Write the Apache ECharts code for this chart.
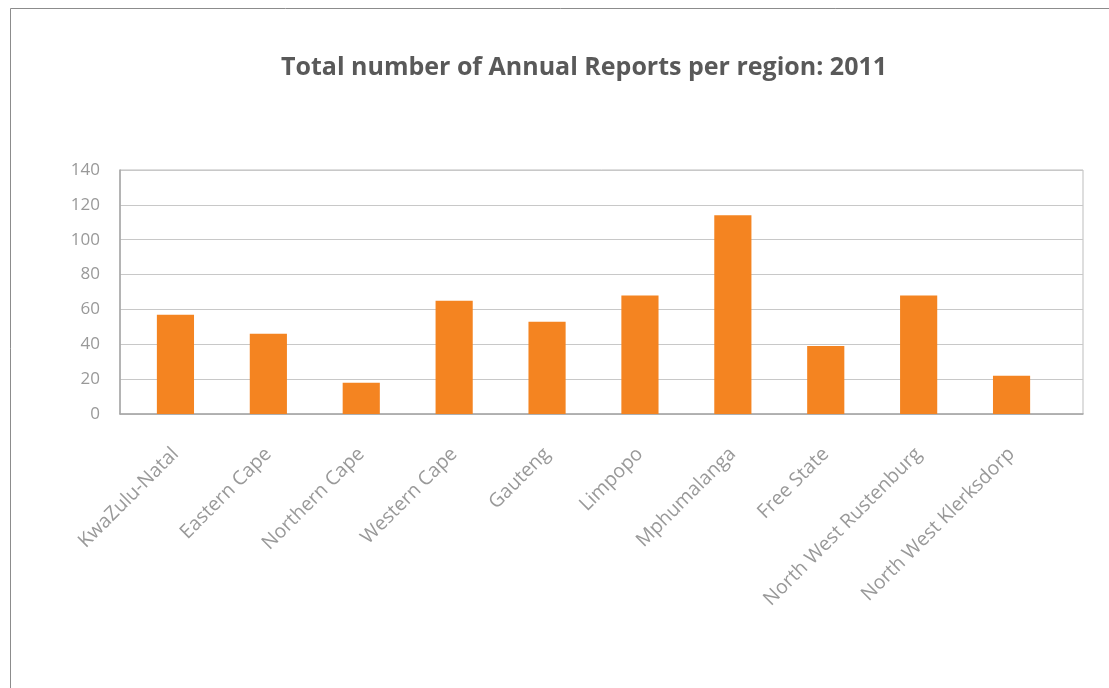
<!DOCTYPE html>
<html>
<head>
<meta charset="utf-8">
<script src="https://cdn.jsdelivr.net/npm/echarts@6/dist/echarts.min.js"></script>
<style>
  html, body { margin: 0; padding: 0; background: #ffffff; }
  #chart { width: 1109px; height: 688px; }
</style>
</head>
<body>
<div id="chart"></div>
<script>
// Regions and their report counts for 2011
const regions = [
  'KwaZulu-Natal', 'Eastern Cape', 'Northern Cape', 'Western Cape', 'Gauteng',
  'Limpopo', 'Mphumalanga', 'Free State', 'North West Rustenburg', 'North West Klerksdorp'
];
const reports = [57, 46, 18, 65, 53, 68, 114, 39, 68, 22];
const yTicks = { min: 0, max: 140, step: 20 };

const labelFont = 'Open Sans';
const labelColor = '#999999';

const chart = echarts.init(document.getElementById('chart'), null, { renderer: 'canvas' });

chart.setOption({
  backgroundColor: '#ffffff',
  animation: false,
  graphic: [{
    type: 'rect',
    left: 8, top: 6,
    shape: { width: 1200, height: 800 },
    style: { fill: 'none', stroke: '#8c8c8c', lineWidth: 1 },
    silent: true
  }],
  title: {
    text: 'Total number of Annual Reports per region: 2011',
    left: 276,
    top: 50,
    textStyle: {
      fontFamily: labelFont,
      fontWeight: 'bold',
      fontSize: 25,
      color: '#595959'
    }
  },
  // grid 0: plot frame with value gridlines; grid 1: the bars and category labels
  grid: [
    {
      left: 120, right: 26, top: 170, bottom: 274,
      show: true,
      borderColor: '#bdbdbd',
      borderWidth: 1
    },
    { left: 129, right: 51, top: 170, bottom: 274 }
  ],
  xAxis: [
    {
      gridIndex: 0,
      type: 'category',
      data: regions,
      axisLine: { show: true, lineStyle: { color: '#a6a6a6', width: 1.5 } },
      axisTick: { show: false },
      axisLabel: { show: false }
    },
    {
      gridIndex: 1,
      type: 'category',
      data: regions,
      axisLine: { show: false },
      axisTick: { show: false },
      axisLabel: {
        rotate: 45,
        interval: 0,
        margin: 37,
        fontFamily: labelFont,
        fontSize: 19.5,
        color: labelColor
      }
    }
  ],
  yAxis: [
    {
      gridIndex: 0,
      type: 'value',
      min: yTicks.min,
      max: yTicks.max,
      interval: yTicks.step,
      axisLine: { show: true, lineStyle: { color: '#a6a6a6', width: 1.5 } },
      axisTick: { show: false },
      splitLine: { lineStyle: { color: '#c8c8c8', width: 1.2 } },
      axisLabel: {
        margin: 20,
        fontFamily: labelFont,
        fontSize: 17,
        color: labelColor
      }
    },
    {
      gridIndex: 1,
      type: 'value',
      min: yTicks.min,
      max: yTicks.max,
      interval: yTicks.step,
      show: false
    }
  ],
  series: [{
    type: 'bar',
    xAxisIndex: 1,
    yAxisIndex: 1,
    data: reports,
    barWidth: '40%',
    itemStyle: { color: '#f48421' }
  }]
});
</script>
</body>
</html>
